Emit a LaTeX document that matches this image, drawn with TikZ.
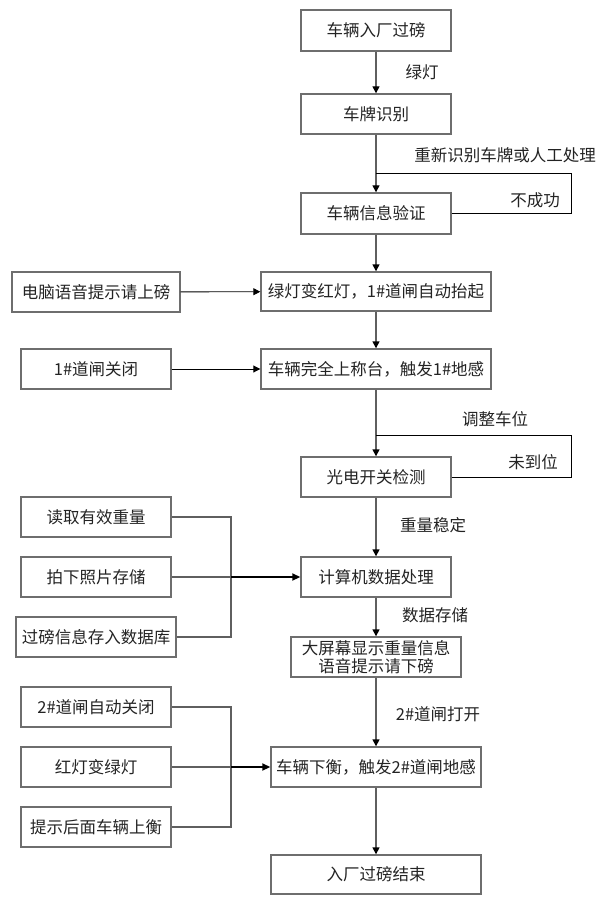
\documentclass[tikz,border=0pt]{standalone}
\usepackage{fontspec}
\setmainfont{Noto Sans CJK SC}
\usetikzlibrary{arrows.meta,positioning}
\definecolor{boxgray}{RGB}{110,110,110}
\definecolor{linegray}{RGB}{95,95,95}
\definecolor{txt}{RGB}{35,35,35}
\tikzset{
  stepbox/.style={draw=boxgray,line width=1.4pt,minimum width=150pt,minimum height=40pt,inner sep=0pt,text=txt,font=\fontsize{16.5}{19}\selectfont,align=center},
  lbl/.style={text=txt,font=\fontsize{16.5}{19}\selectfont,inner sep=0pt},
  mainarrow/.style={draw=linegray,line width=1.4pt,-{Triangle[length=7pt,width=7pt,color=black]}},
  sidearrow/.style={draw=black,line width=0.9pt,-{Triangle[length=7pt,width=7pt]}},
  loopline/.style={draw=black,line width=0.9pt},
  joinline/.style={draw=linegray,line width=1.2pt},
  mergearrow/.style={draw=black,line width=1.8pt,-{Triangle[length=8pt,width=7pt]}}
}
\begin{document}
\begin{tikzpicture}[x=1pt,y=-1pt]
\useasboundingbox (0,0) rectangle (606,909);
% main column
\node[stepbox,minimum height=41pt] (b1) at (376,30.5) {车辆入厂过磅};
\node[stepbox] (b2) at (376,114) {车牌识别};
\node[stepbox,minimum height=41pt] (b3) at (376,213.5) {车辆信息验证};
\node[stepbox,minimum width=230pt,minimum height=39pt] (b4) at (376,291.5) {绿灯变红灯，1\#道闸自动抬起};
\node[stepbox,minimum width=230pt] (b5) at (376,369) {车辆完全上称台，触发1\#地感};
\node[stepbox] (b6) at (376,477) {光电开关检测};
\node[stepbox] (b7) at (376,577) {计算机数据处理};
\node[stepbox,minimum width=170pt,font=\fontsize{16.5}{18}\selectfont] (b8) at (376,657) {大屏幕显示重量信息\\语音提示请下磅};
\node[stepbox,minimum width=210pt] (b9) at (376,767) {车辆下衡，触发2\#道闸地感};
\node[stepbox,minimum width=210pt,minimum height=39pt] (b10) at (376,874.5) {入厂过磅结束};
% left column
\node[stepbox,minimum width=168pt] (l1) at (96,292) {电脑语音提示请上磅};
\node[stepbox] (l2) at (96,369) {1\#道闸关闭};
\node[stepbox] (c1) at (96,517) {读取有效重量};
\node[stepbox] (c2) at (96,577) {拍下照片存储};
\node[stepbox,minimum width=160pt] (c3) at (96,637) {过磅信息存入数据库};
\node[stepbox] (f1) at (96,707) {2\#道闸自动关闭};
\node[stepbox] (f2) at (96,767) {红灯变绿灯};
\node[stepbox] (f3) at (96,827) {提示后面车辆上衡};
% labels
\node[lbl] (t1) at (422,72) {绿灯};
\node[lbl] (t2) at (505,155) {重新识别车牌或人工处理};
\node[lbl] (t3) at (535,200) {不成功};
\node[lbl] (t4) at (495,419) {调整车位};
\node[lbl] (t5) at (533,462) {未到位};
\node[lbl] (t6) at (433,525) {重量稳定};
\node[lbl] (t7) at (435,615) {数据存储};
\node[lbl] (t8) at (438,714) {2\#道闸打开};
% coordinates
\coordinate (r1) at (571,173);
\coordinate (r2) at (571,435);
\coordinate (j1) at (231,577);
\coordinate (j2) at (231,767);
% main arrows
\draw[mainarrow] (b1) -- (b2);
\draw[mainarrow] (b2) -- (b3);
\draw[mainarrow] (b3) -- (b4);
\draw[mainarrow] (b4) -- (b5);
\draw[mainarrow] (b5) -- (b6);
\draw[mainarrow] (b6) -- (b7);
\draw[mainarrow] (b7) -- (b8);
\draw[mainarrow] (b8) -- (b9);
\draw[mainarrow] (b9) -- (b10);
% loops
\draw[loopline] (b3.east) -| (r1) -- (b2.south |- r1);
\draw[loopline] (b6.east) -| (r2) -- (b5.south |- r2);
% side arrows
\draw[sidearrow] (l1) -- (b4);
\draw[sidearrow] (l2) -- (b5);
% merges
\draw[joinline] (c1.east) -| (j1);
\draw[joinline] (c3.east) -| (j1);
\draw[joinline] (c2.east) -- (j1);
\draw[mergearrow] (j1) -- (b7.west);
\draw[joinline] (f1.east) -| (j2);
\draw[joinline] (f3.east) -| (j2);
\draw[joinline] (f2.east) -- (j2);
\draw[mergearrow] (j2) -- (b9.west);
\end{tikzpicture}
\end{document}
